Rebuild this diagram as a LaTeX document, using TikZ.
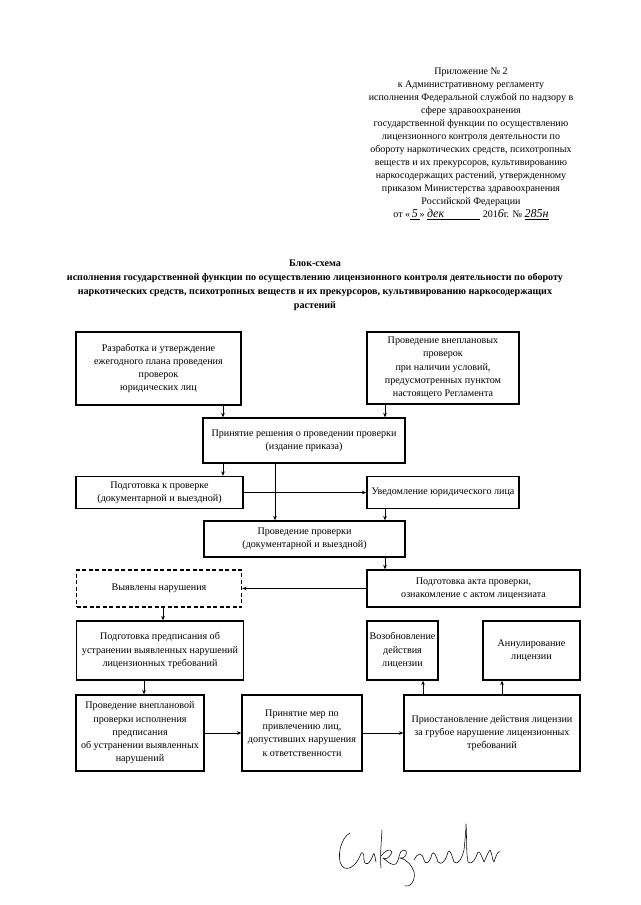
\documentclass[tikz,border=0pt]{standalone}
\usepackage{fontspec}
\setmainfont{Liberation Serif}
\usetikzlibrary{arrows.meta}
\begin{document}
\begin{tikzpicture}[x=1pt,y=-1pt,
  box/.style={draw, line width=1.3pt, align=center, inner sep=1pt, font=\fontsize{10.1}{13.3}\selectfont},
  dbox/.style={box, dash pattern=on 4pt off 2.5pt},
  conn/.style={line width=0.75pt, -{Stealth[length=4.5pt,width=3.6pt]}},
  hand/.style={line width=0.55pt, line cap=round, line join=round},
  txt/.style={align=center, inner sep=0pt, anchor=north}]
\useasboundingbox (0,0) rectangle (640,905);
\fill[white] (0,0) rectangle (640,905);

% header
\node[txt, font=\fontsize{10}{13}\selectfont] (hdr) at (471,68) {Приложение № 2\\
к Административному регламенту\\
исполнения Федеральной службой по надзору в\\
сфере здравоохранения\\
государственной функции по осуществлению\\
лицензионного контроля деятельности по\\
обороту наркотических средств, психотропных\\
веществ и их прекурсоров, культивированию\\
наркосодержащих растений, утвержденному\\
приказом Министерства здравоохранения\\
Российской Федерации\\
от «\underline{\,\textit{\large 5}\,}» \underline{\textit{\large дек}\hspace{36pt}} 201\textit{\large 6}г. № \underline{\textit{\large 285н}}};

% title
\node[txt, font=\fontsize{10.1}{14}\selectfont\bfseries] (ttl) at (315,260) {Блок-схема\\
исполнения государственной функции по осуществлению лицензионного контроля деятельности по обороту\\
наркотических средств, психотропных веществ и их прекурсоров, культивированию наркосодержащих\\
растений};

% boxes
\node[box, minimum width=165pt, minimum height=73pt] (A) at (158.5,368.5) {Разработка и утверждение\\ежегодного плана проведения\\проверок\\юридических лиц};
\node[box, minimum width=152pt, minimum height=72pt] (B) at (443,368) {Проведение внеплановых\\проверок\\при наличии условий,\\предусмотренных пунктом\\настоящего Регламента};
\node[box, minimum width=202pt, minimum height=45pt] (C) at (304,440.5) {Принятие решения о проведении проверки\\(издание приказа)};
\node[box, minimum width=167pt, minimum height=32pt] (D) at (159.5,492.5) {Подготовка к проверке\\(документарной и выездной)};
\node[box, minimum width=152pt, minimum height=32pt] (E) at (443,492.5) {Уведомление юридического лица};
\node[box, minimum width=201pt, minimum height=36pt] (F) at (304.5,539) {Проведение проверки\\(документарной и выездной)};
\node[dbox, minimum width=165pt, minimum height=37pt] (G) at (159,588.5) {Выявлены нарушения};
\node[box, minimum width=213pt, minimum height=37pt] (H) at (473.5,588.5) {Подготовка акта проверки,\\ознакомление с актом лицензиата};
\node[box, minimum width=167pt, minimum height=59pt] (I) at (160,650.5) {Подготовка предписания об\\устранении выявленных нарушений\\лицензионных требований};
\node[box, minimum width=71pt, minimum height=59pt] (J) at (402.5,650.5) {Возобновление\\действия\\лицензии};
\node[box, minimum width=97pt, minimum height=59pt] (K) at (531.5,650.5) {Аннулирование\\лицензии};
\node[box, minimum width=128pt, minimum height=76pt] (L) at (140,733) {Проведение внеплановой\\проверки исполнения\\предписания\\об устранении выявленных\\нарушений};
\node[box, minimum width=120pt, minimum height=76pt] (M) at (302,733) {Принятие мер по\\привлечению лиц,\\допустивших нарушения\\к ответственности};
\node[box, minimum width=176pt, minimum height=76pt] (N) at (492,733) {Приостановление действия лицензии\\за грубое нарушение лицензионных\\требований};

% guide coordinates
\coordinate (xa) at (223,0);
\coordinate (xb) at (385,0);
\coordinate (xc) at (275,0);
\coordinate (xg) at (163,0);
\coordinate (xi) at (144,0);
\coordinate (xj) at (423,0);
\coordinate (xk) at (502,0);

% connectors
\draw[conn] (A.south -| xa) -- (C.north -| xa);
\draw[conn] (B.south -| xb) -- (C.north -| xb);
\draw[conn] (C.south -| xa) -- (D.north -| xa);
\draw[conn] (C.south -| xc) -- (F.north -| xc);
\draw[conn] (D.east) -- (E.west);
\draw[conn] (E.south -| xb) -- (F.north -| xb);
\draw[conn] (F.south -| xb) -- (H.north -| xb);
\draw[conn] (H.west) -- (G.east);
\draw[conn] (G.south -| xg) -- (I.north -| xg);
\draw[conn] (I.south -| xi) -- (L.north -| xi);
\draw[conn] (L.east) -- (M.west);
\draw[conn] (M.east) -- (N.west);
\draw[conn] (N.north -| xj) -- (J.south -| xj);
\draw[conn] (N.north -| xk) -- (K.south -| xk);

% signature
\draw[hand] (350,833) .. controls (341,837) and (336,858) .. (342,866)
  .. controls (347,872) and (356,866) .. (360,856)
  .. controls (362,850) and (364,852) .. (364,860)
  .. controls (365,867) and (370,864) .. (373,855)
  .. controls (374,851) and (375,856) .. (376,862);
\draw[hand] (382,830) .. controls (381,845) and (380,858) .. (381,868);
\draw[hand] (381,856) .. controls (386,850) and (390,848) .. (392,852)
  .. controls (390,858) and (385,860) .. (383,858)
  .. controls (388,862) and (392,866) .. (396,864)
  .. controls (400,860) and (398,850) .. (404,850)
  .. controls (410,852) and (404,860) .. (400,858)
  .. controls (408,860) and (412,866) .. (414,872)
  .. controls (416,880) and (410,888) .. (405,886);
\draw[hand] (414,860) .. controls (418,852) and (422,852) .. (424,860)
  .. controls (426,866) and (430,862) .. (432,854)
  .. controls (434,850) and (436,856) .. (438,862)
  .. controls (442,866) and (446,860) .. (448,852)
  .. controls (450,848) and (452,856) .. (454,862)
  .. controls (458,866) and (462,858) .. (464,850)
  .. controls (465,840) and (466,830) .. (466,824)
  .. controls (467,838) and (466,852) .. (468,862)
  .. controls (472,866) and (476,858) .. (478,852)
  .. controls (480,850) and (482,858) .. (484,862)
  .. controls (486,858) and (488,852) .. (490,850)
  .. controls (492,852) and (492,860) .. (494,862)
  .. controls (496,856) and (498,850) .. (500,852);
\end{tikzpicture}
\end{document}
